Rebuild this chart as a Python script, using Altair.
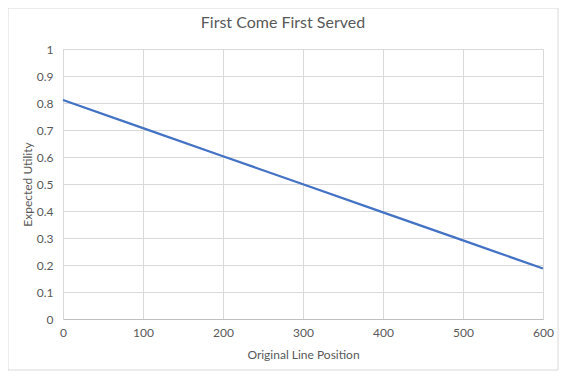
import altair as alt
import pandas as pd

positions = [0, 100, 200, 300, 400, 500, 600]
utility = [0.811, 0.707, 0.603, 0.499, 0.395, 0.291, 0.187]

df = pd.DataFrame({"pos": positions, "util": utility})

FONT = "Lato"
GREY = "#595959"

border = alt.Chart(pd.DataFrame({"a": [0]})).mark_rect(
    fill=None, stroke="#d9d9d9", strokeWidth=1
).encode(x=alt.value(-55), x2=alt.value(495), y=alt.value(-41), y2=alt.value(321))

title = alt.Chart(pd.DataFrame({"t": ["First Come First Served"]})).mark_text(
    font=FONT, fontSize=16, color=GREY, align="center", baseline="middle"
).encode(x=alt.value(220), y=alt.value(-26), text="t:N")

line = alt.Chart(df).mark_line(color="#4472C4", strokeWidth=2.25).encode(
    x=alt.X("pos:Q", scale=alt.Scale(domain=[0, 600], nice=False),
            axis=alt.Axis(values=[0, 100, 200, 300, 400, 500, 600], title="Original Line Position",
                          titleY=30, grid=True, ticks=False, labelPadding=8,
                          domainColor="#bfbfbf", labelFlush=False)),
    y=alt.Y("util:Q", scale=alt.Scale(domain=[0, 1], nice=False),
            axis=alt.Axis(values=[0, 0.1, 0.2, 0.3, 0.4, 0.5, 0.6, 0.7, 0.8, 0.9, 1],
                          format="~g",
                          title="Expected  Utility", titleX=-29, titleY=135,
                          grid=True, ticks=False, labelPadding=10,
                          domainColor="#d9d9d9", labelFlush=False)),
)

chart = alt.layer(line, border, title).properties(
    width=480, height=270,
    autosize=alt.AutoSizeParams(type="none"),
    padding={"left": 55, "top": 41, "right": 16, "bottom": 52},
).configure_view(stroke=None).configure_axis(
    labelFont=FONT, labelFontSize=12, labelColor=GREY,
    titleFont=FONT, titleFontSize=12, titleColor=GREY, titleFontWeight="normal",
    gridColor="#d9d9d9", gridWidth=1,
)

chart.save("out.html", embed_options={"renderer": "svg", "actions": False})
